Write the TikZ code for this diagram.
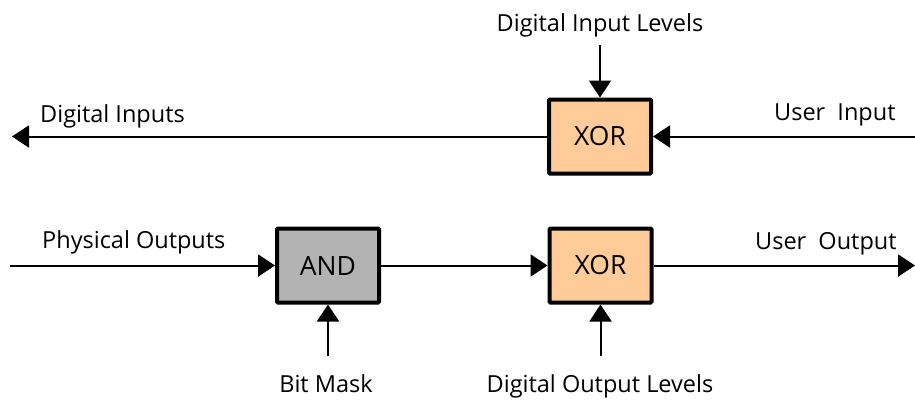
\documentclass[tikz,border=0pt]{standalone}
\usepackage{fontspec}
\setmainfont{Open Sans}
\usetikzlibrary{arrows.meta}
\definecolor{peach}{HTML}{FFCC99}
\definecolor{andgrey}{HTML}{B3B3B3}
\tikzset{
  gate/.style={draw=black, line width=4pt, rounded corners=1pt, minimum width=102pt, minimum height=74pt, inner sep=0pt, font=\fontsize{26.5}{30}\selectfont},
  xorbox/.style={gate, fill=peach},
  andbox/.style={gate, fill=andgrey},
  lbl/.style={font=\fontsize{23.5}{27}\selectfont, inner sep=0pt},
  conn/.style={line width=2pt, -{Triangle[length=17pt,width=22pt]}},
}
\begin{document}
\begin{tikzpicture}[x=1pt,y=-1pt]
\useasboundingbox (0,0) rectangle (915,399);
% boxes
\node[xorbox] (xor1) at (600,136.5) {XOR};
\node[andbox] (and) at (328,265.5) {AND};
\node[xorbox] (xor2) at (600.5,265.5) {XOR};
% free ends
\coordinate (dilS) at (600,45);
\coordinate (diE) at (12,136.5);
\coordinate (uiS) at (915,136.5);
\coordinate (poS) at (10,265.5);
\coordinate (bmS) at (328,356);
\coordinate (dolS) at (600.5,356);
\coordinate (uoE) at (915,265.5);
% connectors
\draw[conn] (dilS) -- (xor1.north);
\draw[conn] (xor1.west) -- (diE);
\draw[conn] (uiS) -- (xor1.east);
\draw[conn] (poS) -- (and.west);
\draw[conn] (bmS) -- (and.south);
\draw[conn] (and.east) -- (xor2.west);
\draw[conn] (dolS) -- (xor2.south);
\draw[conn] (xor2.east) -- (uoE);
% labels
\node[lbl, anchor=base] (tdil) at (600,31) {Digital Input Levels};
\node[lbl, anchor=base west] (tdi) at (40,122) {Digital Inputs};
\node[lbl, anchor=base west] (tui) at (774,120) {User~~Input};
\node[lbl, anchor=base west] (tpo) at (42,248) {Physical Outputs};
\node[lbl, anchor=base west] (tuo) at (755,249) {User~~Output};
\node[lbl, anchor=base] (tbm) at (326,392) {Bit Mask};
\node[lbl, anchor=base] (tdol) at (600,392) {Digital Output Levels};
\end{tikzpicture}
\end{document}
